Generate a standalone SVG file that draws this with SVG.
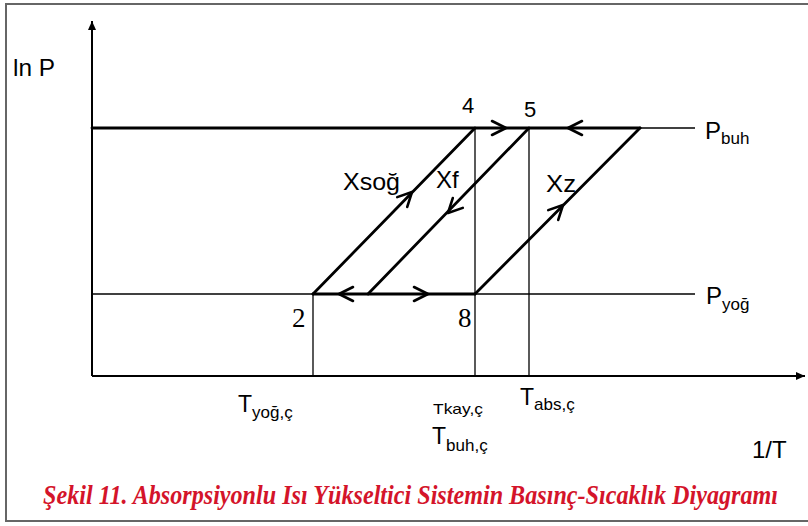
<svg xmlns="http://www.w3.org/2000/svg" width="808" height="526" viewBox="0 0 808 526">
<style>
.t{font-family:"Liberation Sans",Arial,sans-serif;fill:#000}
.s{font-family:"Liberation Serif","Times New Roman",serif;fill:#000}
.thin{stroke:#000;stroke-width:1.3;fill:none}
.thick{stroke:#000;stroke-width:2.8;fill:none;stroke-linecap:round}
.ax{stroke:#000;stroke-width:2;fill:none}
.ch{stroke:#000;stroke-width:2.6;fill:none;stroke-linecap:round;stroke-linejoin:round}
</style>
<defs>
<marker id="ah" markerWidth="10" markerHeight="10" refX="9" refY="5" orient="auto" markerUnits="userSpaceOnUse">
<path d="M0,1 L9,5 L0,9 Z" fill="#000"/>
</marker>
</defs>
<rect x="6" y="4" width="806" height="517" fill="#fff" stroke="#666" stroke-width="2"/>
<g id="axes">
<line class="ax" x1="92" y1="376" x2="92" y2="21" marker-end="url(#ah)"/>
<line class="ax" x1="92" y1="376" x2="805" y2="376" marker-end="url(#ah)"/>
</g>
<g id="connectors">
<line class="thin" x1="640" y1="128" x2="695" y2="128"/>
<line class="thick" x1="92" y1="128" x2="640" y2="128"/>
<line class="thin" x1="92" y1="294" x2="695" y2="294"/>
<line class="thick" x1="313" y1="294" x2="475" y2="294"/>
<line class="thin" x1="313" y1="294" x2="313" y2="376"/>
<line class="thin" x1="475" y1="128" x2="475" y2="376"/>
<line class="thin" x1="529" y1="128" x2="529" y2="376"/>
<line class="thick" x1="313" y1="294" x2="475" y2="128"/>
<line class="thick" x1="529" y1="128" x2="368" y2="294"/>
<line class="thick" x1="475" y1="294" x2="640" y2="128"/>
<path class="ch" d="M492,121 L506,128 L492,135"/>
<path class="ch" d="M582,121 L568,128 L582,135"/>
<path class="ch" d="M353,287 L339,294 L353,301"/>
<path class="ch" d="M414,287 L428,294 L414,301"/>
<g transform="translate(412,192) rotate(-45.7)"><path class="ch" d="M-14,-7 L0,0 L-14,7"/></g>
<g transform="translate(448,213) rotate(134.3)"><path class="ch" d="M-14,-7 L0,0 L-14,7"/></g>
<g transform="translate(563,205) rotate(-45.7)"><path class="ch" d="M-14,-7 L0,0 L-14,7"/></g>
</g>
<g id="labels">
<text class="t" x="13" y="76" font-size="24" textLength="42" lengthAdjust="spacingAndGlyphs">ln P</text>
<text class="t" x="462" y="113" font-size="22">4</text>
<text class="t" x="524" y="117" font-size="22">5</text>
<text class="t" x="343" y="190" font-size="24" textLength="57" lengthAdjust="spacingAndGlyphs">Xsoğ</text>
<text class="t" x="436" y="188" font-size="24">Xf</text>
<text class="t" x="546" y="192" font-size="24" textLength="30" lengthAdjust="spacingAndGlyphs">Xz</text>
<text class="s" x="292" y="327" font-size="27">2</text>
<text class="s" x="458" y="327" font-size="27">8</text>
<text class="t" x="705" y="139" font-size="24">P<tspan font-size="17" dy="5">buh</tspan></text>
<text class="t" x="706" y="304" font-size="24">P<tspan font-size="17" dy="6">yoğ</tspan></text>
<text class="t" x="238" y="412" font-size="23">T<tspan font-size="17" dy="6">yoğ,ç</tspan></text>
<text class="t" x="433" y="414" font-size="15" textLength="50" lengthAdjust="spacingAndGlyphs">Tkay,ç</text>
<text class="t" x="520" y="405" font-size="23">T<tspan font-size="17" dy="5">abs,ç</tspan></text>
<text class="t" x="432" y="444" font-size="23">T<tspan font-size="17" dy="7">buh,ç</tspan></text>
<text class="t" x="752" y="458" font-size="24">1/T</text>
<text transform="translate(43,504) scale(1,1.18)" x="0" y="0" font-family="'Liberation Serif','Times New Roman',serif" font-size="24" font-weight="bold" font-style="italic" fill="#d4142a" textLength="735" lengthAdjust="spacingAndGlyphs">Şekil 11. Absorpsiyonlu Isı Yükseltici Sistemin Basınç-Sıcaklık Diyagramı</text>
</g>
</svg>
